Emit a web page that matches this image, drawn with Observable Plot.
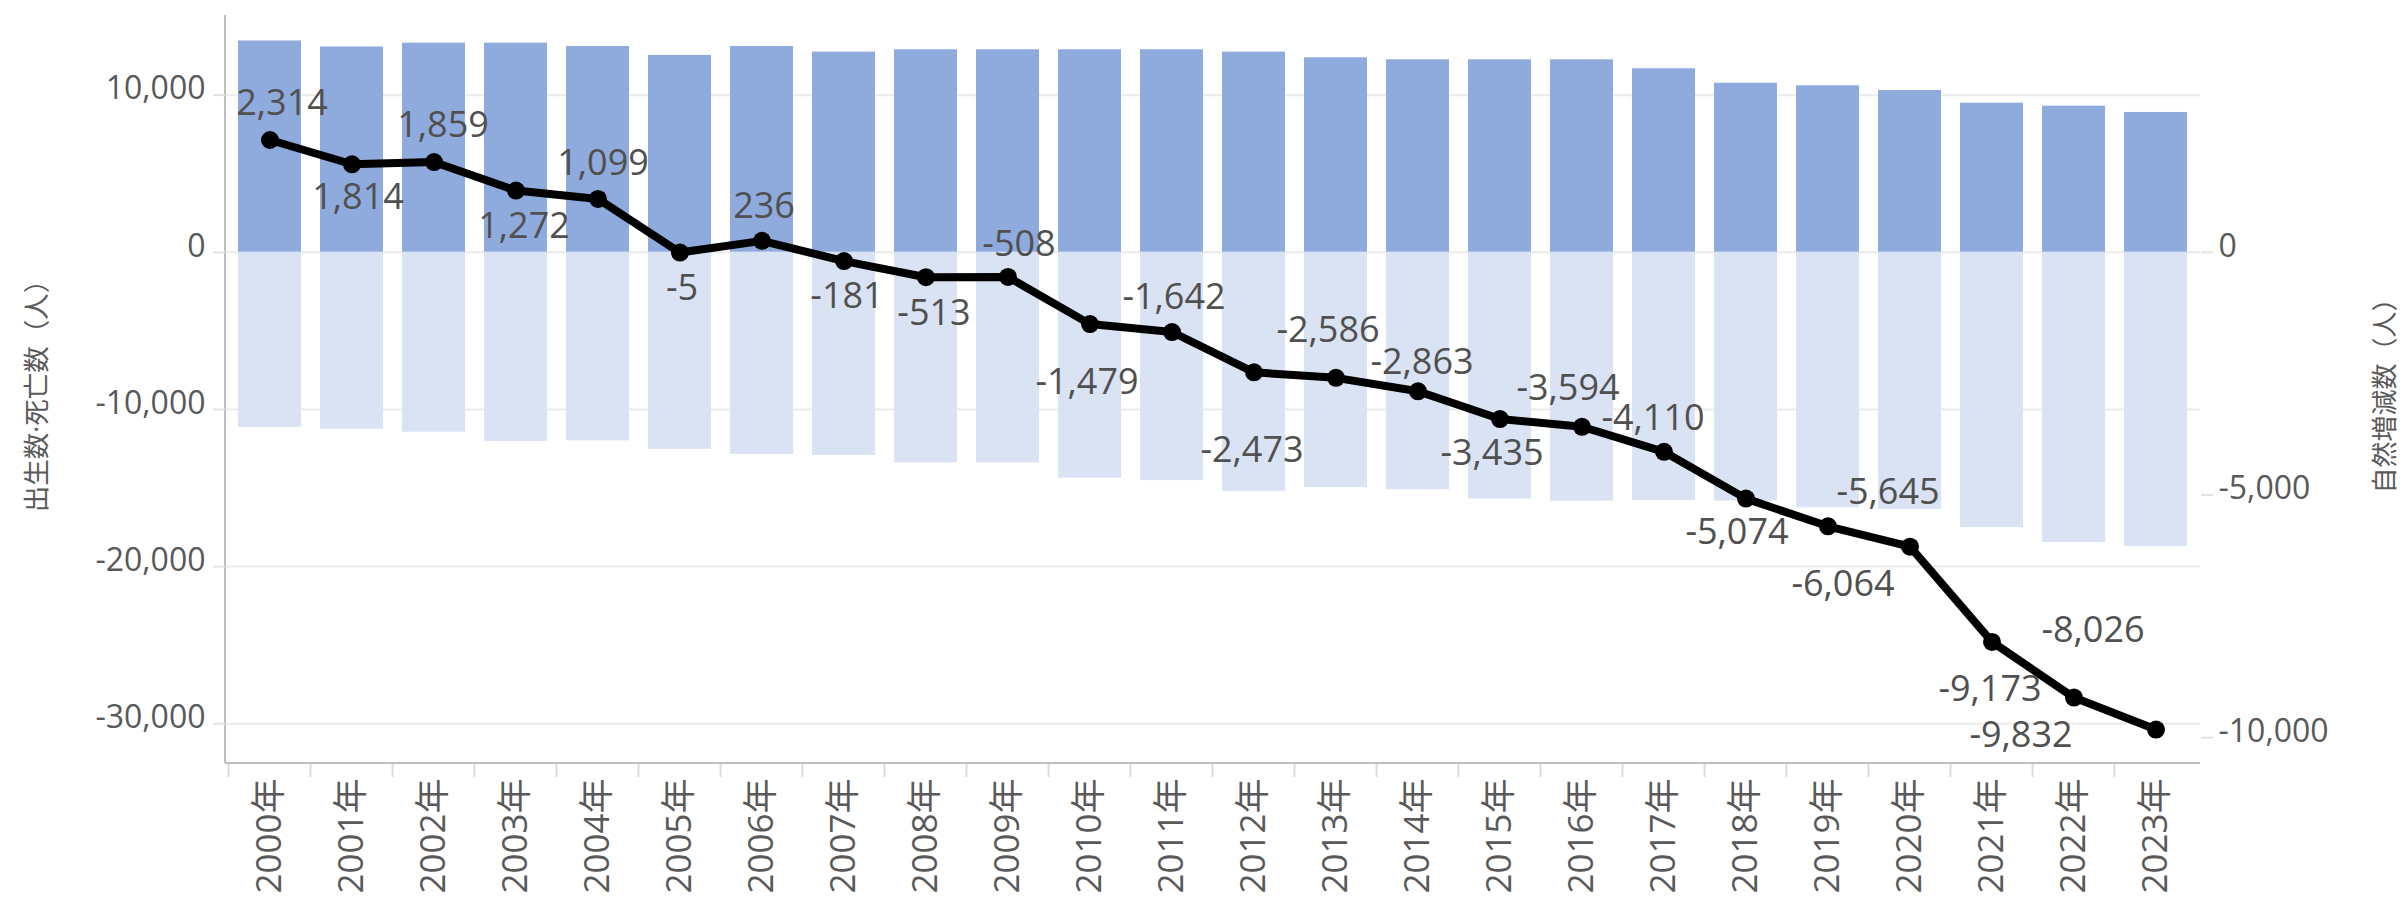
<!DOCTYPE html>
<html><head><meta charset="utf-8">
<script src="https://cdn.jsdelivr.net/npm/d3@7"></script>
<script src="https://cdn.jsdelivr.net/npm/@observablehq/plot@0.6"></script>
<style>html,body{margin:0;padding:0;background:#fff;} #chart svg{display:block;}</style>
</head><body><div id="chart"></div>
<script>
const years = ["2000年","2001年","2002年","2003年","2004年","2005年","2006年","2007年","2008年","2009年","2010年","2011年","2012年","2013年","2014年","2015年","2016年","2017年","2018年","2019年","2020年","2021年","2022年","2023年"];
const births = [13450,13070,13310,13310,13100,12530,13100,12740,12890,12890,12890,12890,12740,12380,12250,12250,12250,11680,10760,10600,10300,9490,9300,8900];
const deaths = [11140,11260,11450,12040,12000,12540,12860,12920,13400,13400,14370,14530,15210,14970,15110,15690,15840,15790,15830,16250,16360,17520,18470,18730];
const naturalChange = [2314,1814,1859,1272,1099,-5,236,-181,-513,-508,-1479,-1642,-2473,-2586,-2863,-3435,-3594,-4110,-5074,-5645,-6064,-8026,-9173,-9832];
const leftTicks = [10000,0,-10000,-20000,-30000];
const rightTicks = [0,-5000,-10000];
const leftDomain = [-32530,15070];
const rightDomain = [-10530,4880];
const leftTitle = "出生数·死亡数（人）";
const rightTitle = "自然増減数（人）";
// label nudges (px) relative to each point
const labelDx = [12,6,9,8,5,2,2,3,8,11,-3,2,-2,-8,4,-8,-14,-11,-9,60,-67,101,-84,-135];
const labelDy = [-37,33,-37,36,-36,36,-34,35,36,-33,58,-35,78,-47,-29,34,-38,-33,34,-34,38,-11,-8,6];

const k = (leftDomain[1]-leftDomain[0])/(rightDomain[1]-rightDomain[0]);
const fmt = d3.formatLocale({decimal:".", thousands:",", grouping:[3], currency:["",""], minus:"-"}).format(",");
const data = years.map((year,i)=>({year, births: births[i], deaths: -deaths[i], nat: naturalChange[i]}));

const FONT = "'Open Sans','Noto Sans CJK JP',sans-serif";

function decor(index, scales, values, dims) {
  const {width, height, marginLeft, marginRight, marginTop, marginBottom} = dims;
  const g = d3.create("svg:g");
  const x0 = marginLeft, x1 = width - marginRight, y0 = marginTop, y1 = height - marginBottom;
  const x = scales.x;
  const bw = x.bandwidth();
  const step = x.step ? x.step() : bw/(1-0.234);
  years.forEach(yr => {
    const bx = x(yr) - (step - bw)/2;
    g.append("line").attr("x1",bx).attr("x2",bx).attr("y1",y1).attr("y2",y1+14).attr("stroke","#dcdcdc").attr("stroke-width",2);
  });
  g.append("line").attr("x1",x0).attr("x2",x0).attr("y1",y0).attr("y2",y1).attr("stroke","#bfbfbf").attr("stroke-width",2);
  g.append("line").attr("x1",x0).attr("x2",x1).attr("y1",y1).attr("y2",y1).attr("stroke","#bfbfbf").attr("stroke-width",2);
  return g.node();
}

const labelMarks = data.map((d,i)=>Plot.text([d], {
  x:"year", y: e=>e.nat*k, text: e=>fmt(e.nat),
  dx: labelDx[i], dy: labelDy[i], fontSize: 36, fill:"#505050", fontFamily: FONT
}));

const chart = Plot.plot({
  width: 2405, height: 902,
  marginLeft: 225, marginRight: 205, marginTop: 15, marginBottom: 139,
  style: {fontFamily: FONT, fontSize: "32px", background: "#fff", color: "#595959"},
  x: {type:"band", domain: years, paddingInner: 0.234, paddingOuter: 0.117, axis: null, label: null},
  y: {domain: leftDomain, axis: null, label: null},
  marks: [
    Plot.ruleY(leftTicks, {stroke:"#ebebeb", strokeWidth: 2}),
    Plot.barY(data, {x:"year", y:"births", fill:"#8FAADC"}),
    Plot.barY(data, {x:"year", y:"deaths", fill:"#DAE3F3"}),
    decor,
    Plot.axisY(leftTicks, {anchor:"left", tickSize: 12, tickFormat: ()=>"", stroke:"#e3e3e3", strokeWidth: 2, label: null}),
    Plot.axisY(leftTicks, {anchor:"left", tickSize: 0, tickPadding: 20, dy: -6, tickFormat: fmt, fill:"#595959", fontSize: 32, letterSpacing: 2, fontFamily: FONT, label: null}),
    Plot.axisY(rightTicks, {anchor:"right", y: d=>d*k, tickSize: 12, text: ()=>"", stroke:"#e3e3e3", strokeWidth: 2, label: null}),
    Plot.axisY(rightTicks, {anchor:"right", y: d=>d*k, tickSize: 0, tickPadding: 18, dy: -6, text: d=>fmt(d), fill:"#595959", fontSize: 32, letterSpacing: 2, fontFamily: FONT, label: null}),
    Plot.axisX({anchor:"bottom", tickSize: 0, tickPadding: 15, tickRotate: -90, textAnchor: "end", fill:"#595959", fontSize: 35, fontFamily: FONT, label: null}),
    Plot.text([leftTitle], {frameAnchor:"left", text: d=>d, rotate: -90, textAnchor:"middle", dx: -188, fontSize: 26.5, fill:"#595959", fontFamily: FONT}),
    Plot.text([rightTitle], {frameAnchor:"right", text: d=>d, rotate: -90, textAnchor:"middle", dx: 185, fontSize: 26, fill:"#595959", fontFamily: FONT}),
    Plot.line(data, {x:"year", y: d=>d.nat*k, stroke:"#000", strokeWidth: 8, strokeLinejoin:"round"}),
    Plot.dot(data, {x:"year", y: d=>d.nat*k, r: 9, fill:"#000", stroke: null}),
    ...labelMarks
  ]
});
document.getElementById("chart").appendChild(chart);
</script>
</body></html>
